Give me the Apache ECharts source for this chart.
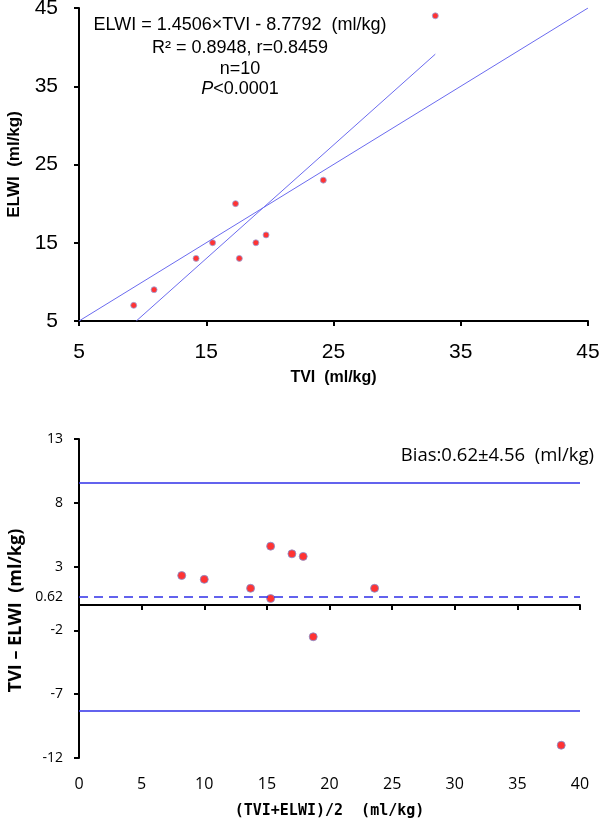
<!DOCTYPE html>
<html>
<head>
<meta charset="utf-8">
<script src="https://cdn.jsdelivr.net/npm/echarts@6/dist/echarts.min.js"></script>
<style>
html,body{margin:0;padding:0;background:#fff;}
#chart{width:600px;height:820px;}
</style>
</head>
<body>
<div id="chart"></div>
<script>
// ---- Data ----
const tvi  = [9.3, 10.9, 14.2, 15.5, 17.3, 17.6, 18.9, 19.7, 24.2, 33.0];
const elwi = [7, 9, 13, 15, 20, 13, 15, 16, 23, 44];
const meanVals = [8.2, 10.0, 13.7, 15.3, 18.7, 15.3, 17.0, 17.9, 23.6, 38.5];
const diffVals = [2.3, 2.0, 1.3, 0.5, -2.5, 4.6, 4.0, 3.8, 1.3, -11.0];
const identityX = [5, 45];
const identityY = [5, 45];
const regX = [9.5, 33.0];
const regY = [5.0, 39.1];
const biasX = [0, 40];
const biasVal = 0.62;
const upperLoA = 9.56;
const lowerLoA = -8.32;
const topTicks = [5, 15, 25, 35, 45];
const botYTicks = [-12, -7, -2, 3, 8, 13];
const botYLabels = [-12, -7, -2, 0.62, 3, 8, 13];
const eqLines = ['ELWI = 1.4506×TVI - 8.7792  (ml/kg)', 'R² = 0.8948, r=0.8459', 'n=10'];
const biasText = 'Bias:0.62±4.56  (ml/kg)';

const pair = (xs, ys) => xs.map((x, i) => [x, ys[i]]);

const chart = echarts.init(document.getElementById('chart'), null, {renderer: 'canvas'});
const axisLineStyle = {show: true, lineStyle: {color: '#000', width: 2}};
const tickStyle = {show: true, inside: false, length: 5, lineStyle: {color: '#000', width: 2}};
const arial = 'Liberation Sans, Arial, sans-serif';
const segoe = 'Open Sans, sans-serif';

const option = {
  backgroundColor: '#fff',
  animation: false,
  grid: [
    {left: 79, top: 8, width: 509, height: 313, containLabel: false, outerBoundsMode: 'none'},
    {left: 79, top: 439, width: 501, height: 319, containLabel: false, outerBoundsMode: 'none'}
  ],
  xAxis: [
    {
      gridIndex: 0, type: 'value', min: 5, max: 45,
      axisLine: axisLineStyle,
      axisTick: Object.assign({customValues: topTicks}, tickStyle),
      axisLabel: {customValues: topTicks, fontSize: 21, color: '#000', fontFamily: arial, margin: 21},
      splitLine: {show: false},
      name: 'TVI  (ml/kg)', nameLocation: 'middle', nameGap: 49,
      nameTextStyle: {fontSize: 16, fontWeight: 'bold', color: '#000', fontFamily: arial}
    },
    {
      gridIndex: 1, type: 'value', min: 0, max: 40, interval: 5,
      axisLine: axisLineStyle,
      axisTick: tickStyle,
      axisLabel: {fontSize: 16, color: '#000', fontFamily: segoe, margin: 18},
      splitLine: {show: false},
      name: '(TVI+ELWI)/2  (ml/kg)', nameLocation: 'middle', nameGap: 46,
      nameTextStyle: {fontSize: 15, fontWeight: 'bold', color: '#000', fontFamily: 'DejaVu Sans Mono, monospace'}
    }
  ],
  yAxis: [
    {
      gridIndex: 0, type: 'value', min: 5, max: 45,
      axisLine: axisLineStyle,
      axisTick: Object.assign({customValues: topTicks}, tickStyle),
      axisLabel: {customValues: topTicks, fontSize: 21, color: '#000', fontFamily: arial, margin: 21},
      splitLine: {show: false},
      name: 'ELWI  (ml/kg)', nameLocation: 'middle', nameGap: 56,
      nameTextStyle: {fontSize: 17, fontWeight: 'bold', color: '#000', fontFamily: arial}
    },
    {
      gridIndex: 1, type: 'value', min: -12, max: 13,
      axisLine: axisLineStyle,
      axisTick: Object.assign({customValues: botYTicks}, tickStyle),
      axisLabel: {customValues: botYLabels, fontSize: 14, color: '#000', fontFamily: segoe, margin: 16},
      splitLine: {show: false},
      name: 'TVI – ELWI  (ml/kg)', nameLocation: 'middle', nameGap: 53,
      nameTextStyle: {fontSize: 18, fontWeight: 'bold', color: '#000', fontFamily: segoe, padding: [0, 24, 0, 0]}
    }
  ],
  graphic: [
    {type: 'text', x: 240, y: 25, style: {text: eqLines[0], fontSize: 18, fontFamily: arial, fill: '#000', align: 'center', verticalAlign: 'middle'}},
    {type: 'text', x: 240, y: 48, style: {text: eqLines[1], fontSize: 18, fontFamily: arial, fill: '#000', align: 'center', verticalAlign: 'middle'}},
    {type: 'text', x: 240, y: 69, style: {text: eqLines[2], fontSize: 18, fontFamily: arial, fill: '#000', align: 'center', verticalAlign: 'middle'}},
    {type: 'text', x: 240, y: 89, style: {text: '{i|P}<0.0001', fontSize: 18, fontFamily: arial, fill: '#000', align: 'center', verticalAlign: 'middle',
      rich: {i: {fontStyle: 'italic', fontSize: 18, fontFamily: arial, fill: '#000'}}}},
    {type: 'text', x: 594, y: 456, style: {text: biasText, fontSize: 18.5, fontFamily: segoe, fill: '#000', align: 'right', verticalAlign: 'middle'}}
  ],
  series: [
    {type: 'line', xAxisIndex: 0, yAxisIndex: 0, data: pair(identityX, identityY), symbol: 'none',
      lineStyle: {color: '#6b6bef', width: 1}, silent: true},
    {type: 'line', xAxisIndex: 0, yAxisIndex: 0, data: pair(regX, regY), symbol: 'none',
      lineStyle: {color: '#6b6bef', width: 1}, silent: true},
    {type: 'scatter', xAxisIndex: 0, yAxisIndex: 0, data: pair(tvi, elwi), symbolSize: 6,
      itemStyle: {color: '#ff0000', borderColor: '#9aa8e0', borderWidth: 1}},
    {type: 'line', xAxisIndex: 1, yAxisIndex: 1, data: pair(biasX, [upperLoA, upperLoA]), symbol: 'none',
      lineStyle: {color: '#2f2fe8', width: 1.5}, silent: true},
    {type: 'line', xAxisIndex: 1, yAxisIndex: 1, data: pair(biasX, [lowerLoA, lowerLoA]), symbol: 'none',
      lineStyle: {color: '#2f2fe8', width: 1.5}, silent: true},
    {type: 'line', xAxisIndex: 1, yAxisIndex: 1, data: pair(biasX, [biasVal, biasVal]), symbol: 'none',
      lineStyle: {color: '#2f2fe8', width: 1.5, type: [9, 6]}, silent: true},
    {type: 'scatter', xAxisIndex: 1, yAxisIndex: 1, data: pair(meanVals, diffVals), symbolSize: 8,
      itemStyle: {color: '#ff0000', borderColor: '#7f93d6', borderWidth: 1}}
  ]
};
chart.setOption(option);
</script>
</body>
</html>
